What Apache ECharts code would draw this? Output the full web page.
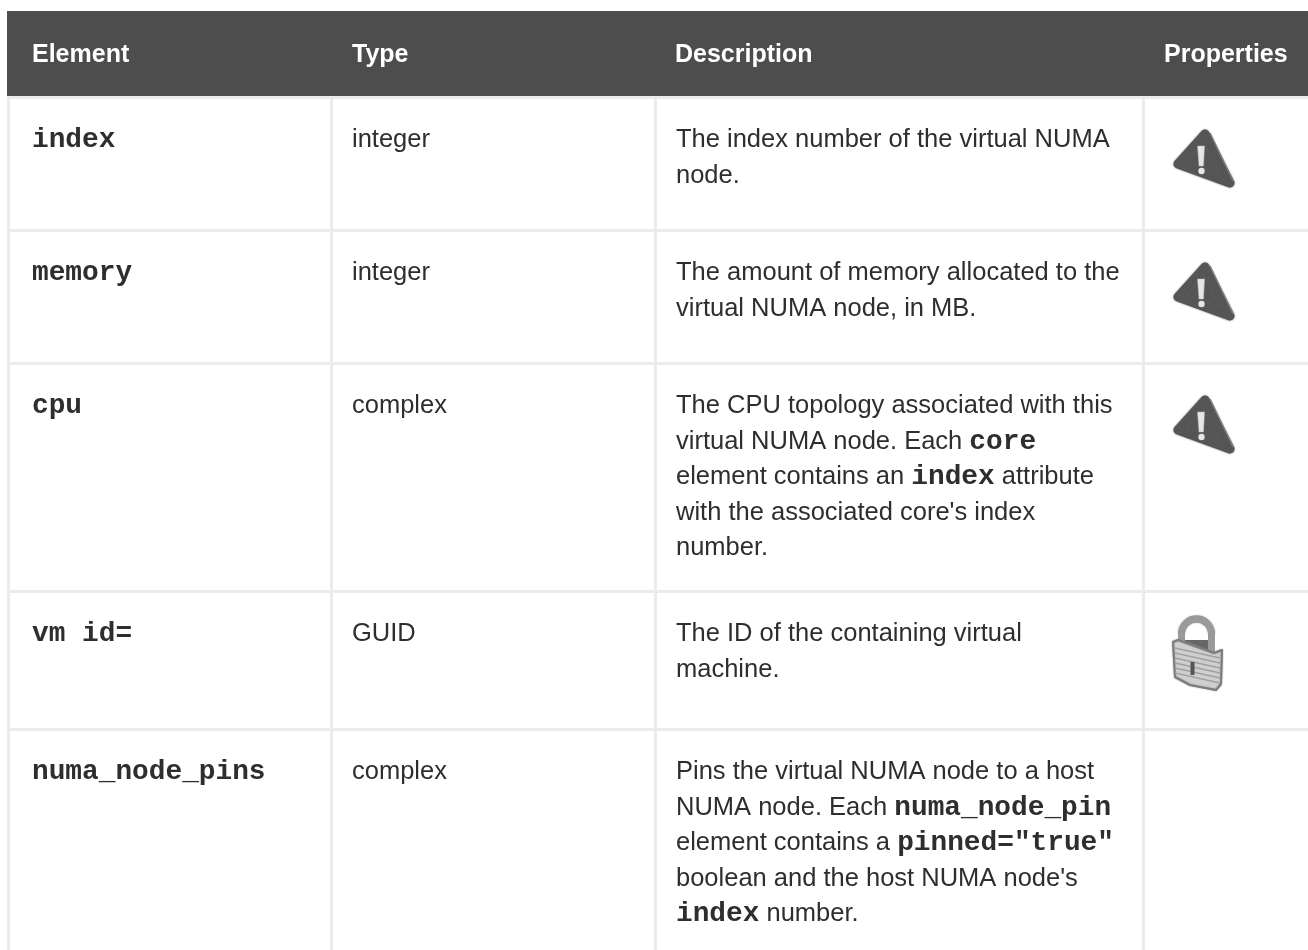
<!DOCTYPE html>
<html><head><meta charset="utf-8">
<style>html,body{margin:0;padding:0;background:#fff}#c{width:1308px;height:950px}</style>
<script src="https://cdn.jsdelivr.net/npm/echarts@6/dist/echarts.min.js"></script>
</head><body><div id="c"></div>
<script>
const headers = ['Element','Type','Description','Properties'];
const elements = ['index','memory','cpu','vm id=','numa_node_pins'];
const types = ['integer','integer','complex','GUID','complex'];
const descriptions = [
 ['The index number of the virtual NUMA','node.'],
 ['The amount of memory allocated to the','virtual NUMA node, in MB.'],
 ['The CPU topology associated with this','virtual NUMA node. Each {b|core}','element contains an {b|index} attribute','with the associated core\'s index','number.'],
 ['The ID of the containing virtual','machine.'],
 ['Pins the virtual NUMA node to a host','NUMA node. Each {b|numa_node_pin}','element contains a {b|pinned="true"}','boolean and the host NUMA node\'s','{b|index} number.']
];
const icons = ['warn','warn','warn','lock',''];
const colX = [7,330,654,1142];
const rowY = [96,229,362,590,728];

const chart = echarts.init(document.getElementById('c'));
const g = [];
const line = '#ebebeb', ink='#2e2e2e';
const sans='25.5px "Liberation Sans"', mono='bold 27.8px "Liberation Mono"';
g.push({type:'rect',shape:{x:7,y:11,width:1301,height:85},style:{fill:'#4d4d4d'}});
rowY.forEach(y=>g.push({type:'rect',shape:{x:7,y:y,width:1301,height:3},style:{fill:line}}));
colX.forEach(x=>g.push({type:'rect',shape:{x:x,y:96,width:3,height:854},style:{fill:line}}));
const hx=[32,352,675,1164];
headers.forEach((h,i)=>g.push({type:'text',style:{x:hx[i],y:55,text:h,fill:'#fff',font:'bold 25px "Liberation Sans"',verticalAlign:'middle'}}));
elements.forEach((e,i)=>{
  const t0=rowY[i];
  g.push({type:'text',style:{x:32,y:t0+44,text:e,fill:ink,font:mono,verticalAlign:'middle'}});
  g.push({type:'text',style:{x:352,y:t0+44,text:types[i],fill:ink,font:sans,verticalAlign:'middle'}});
  descriptions[i].forEach((t,k)=>g.push({type:'text',style:{x:676,y:t0+44+k*35.6,text:t,fill:ink,font:sans,verticalAlign:'middle',
    rich:{b:{font:mono,fill:ink}}}}));
  if(icons[i]==='warn'){
    g.push({type:'polygon',shape:{points:[[1205,t0+38],[1178,t0+68],[1230,t0+87]]},style:{fill:'#555',stroke:'#555',lineWidth:9,lineJoin:'round',shadowBlur:2,shadowColor:'#666'}});
    g.push({type:'line',shape:{x1:1210,y1:t0+37,x2:1233,y2:t0+85},style:{stroke:'#7a7a7a',lineWidth:1.5}});
    g.push({type:'polygon',shape:{points:[[1197.5,t0+50],[1204.5,t0+50],[1203.5,t0+70],[1199,t0+70]]},style:{fill:'#e6e6e6',stroke:'#bbb',lineWidth:0.5}});
    g.push({type:'circle',shape:{cx:1201.5,cy:t0+75,r:3.2},style:{fill:'#e6e6e6'}});
  } else if(icons[i]==='lock'){
    const y0=t0;
    g.push({type:'polygon',shape:{points:[[1184,y0+50],[1208,y0+50],[1208,y0+64],[1184,y0+58]]},style:{fill:'#666'}});
    g.push({type:'arc',shape:{cx:1196.5,cy:y0+44,r:15,startAngle:Math.PI,endAngle:0},style:{fill:'none',stroke:'#9a9a9a',lineWidth:7,shadowBlur:1.5,shadowColor:'#777'}});
    g.push({type:'line',shape:{x1:1181.5,y1:y0+44,x2:1181.5,y2:y0+55},style:{stroke:'#9a9a9a',lineWidth:7}});
    g.push({type:'line',shape:{x1:1211.5,y1:y0+44,x2:1211.5,y2:y0+64},style:{stroke:'#9a9a9a',lineWidth:7}});
    g.push({type:'polygon',shape:{points:[[1173,y0+52],[1178,y0+50],[1214,y0+63],[1222,y0+60],[1221,y0+94],[1216,y0+100],[1190,y0+95],[1175,y0+87]]},style:{fill:'#cfcfcf',stroke:'#7d7d7d',lineWidth:2,lineJoin:'round',shadowBlur:1.5,shadowColor:'#888'}});
    for(let s=0;s<6;s++){g.push({type:'line',shape:{x1:1175,y1:y0+58+s*5,x2:1220,y2:y0+68+s*5},style:{stroke:'#a0a0a0',lineWidth:1.4}});}
    g.push({type:'rect',shape:{x:1190.5,y:y0+72,width:4,height:13},style:{fill:'#555'}});
  }
});
chart.setOption({animation:false,graphic:{elements:g}});
</script></body></html>
